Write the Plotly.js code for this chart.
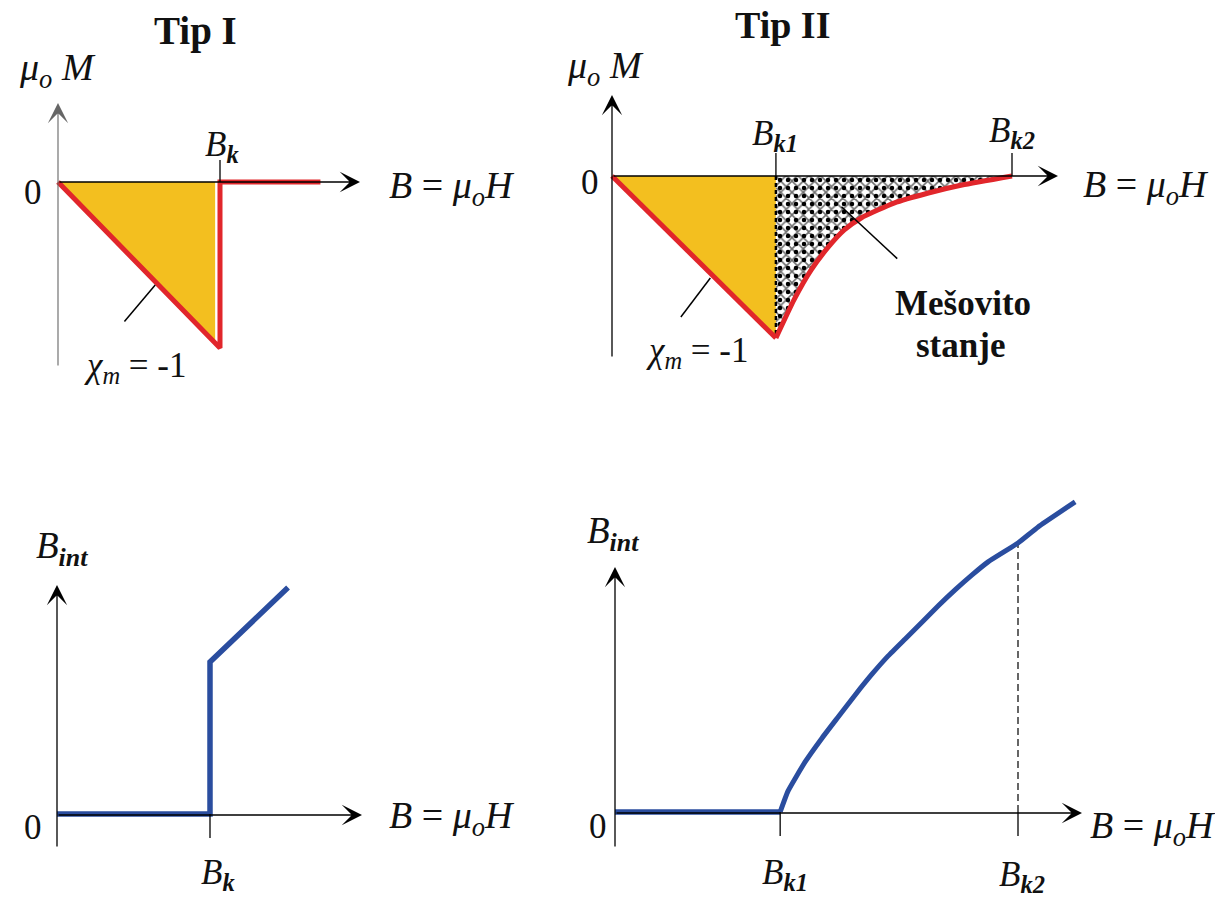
<!DOCTYPE html>
<html><head><meta charset="utf-8">
<script src="https://cdn.plot.ly/plotly-3.0.1.min.js"></script>
<style>html,body{margin:0;padding:0;background:#fff}#chart{width:1215px;height:899px}</style>
</head><body><div id="chart"></div>
<script>
// ---------------- DATA (normalized units, Bk = Bk1 = 1) ----------------
const BK = 1;          // Type I critical field
const BK1 = 1;         // Type II lower critical field
const BK2 = 2.44;      // Type II upper critical field

// Type I magnetization  mu0*M vs B
const t1_B = [0, 1, 1, 1.62];
const t1_M = [0, -1, 0, 0];
const t1_fillB = [0, 0.97, 0.97];
const t1_fillM = [0, -0.97, 0];

// Type II magnetization mu0*M vs B
const t2_B = [0, 1, 1.11, 1.215, 1.32, 1.417, 1.52, 1.72, 1.93, 2.135, 2.44];
const t2_M = [0, -1, -0.765, -0.58, -0.438, -0.333, -0.259, -0.167, -0.105, -0.056, 0];

// Type I internal field
const t1_Bi_B = [0, 1, 1, 1.51];
const t1_Bint = [0, 0, 1, 1.49];

// Type II internal field
const t2_Bi_B = [0, 1, 1.048, 1.151, 1.254, 1.351, 1.454, 1.557, 1.654, 1.757, 1.86, 1.956, 2.059, 2.162, 2.259, 2.44, 2.562, 2.786];
const t2_Bint = [0, 0, 0.191, 0.454, 0.672, 0.862, 1.062, 1.252, 1.416, 1.57, 1.724, 1.869, 2.015, 2.151, 2.269, 2.44, 2.586, 2.813];

// ---------------- LAYOUT HELPERS ----------------
const W = 1215, H = 899;
function xr(px0, v0, px1, v1){ const s=(px1-px0)/(v1-v0); return [v0 - px0/s, v0 + (W-px0)/s]; }
function yr(py0, v0, py1, v1){ const s=(py0-py1)/(v1-v0); return [v0 - (H-py0)/s, v0 + py0/s]; }
const RED = '#e1262b', YEL = '#f3bf1f', BLUE = '#2a4d9f';
const SERIF = 'Liberation Serif, Times New Roman, serif';

const mixB = t2_B.slice(1).concat([BK1]);
const mixM = t2_M.slice(1).concat([0]);

const traces = [
  // panel 1
  {x:t1_fillB, y:t1_fillM, xaxis:'x', yaxis:'y', mode:'lines', fill:'toself', fillcolor:YEL, line:{width:0}},
  {x:t1_B, y:t1_M, xaxis:'x', yaxis:'y', mode:'lines', line:{color:RED, width:5}},
  // panel 2
  {x:t2_B.slice(0,2).concat([BK1]), y:t2_M.slice(0,2).concat([0]), xaxis:'x2', yaxis:'y2', mode:'lines', fill:'toself', fillcolor:YEL, line:{width:0}},
  {x:mixB, y:mixM, xaxis:'x2', yaxis:'y2', mode:'lines', fill:'toself', fillcolor:'#ffffff',
   fillpattern:{shape:'x', fgcolor:'#6e6e6e', bgcolor:'#ffffff', size:8, solidity:0.35}, line:{width:0}},
  {x:mixB, y:mixM, xaxis:'x2', yaxis:'y2', mode:'lines', fill:'toself', fillcolor:'rgba(0,0,0,0)',
   fillpattern:{shape:'.', fgcolor:'#000', bgcolor:'rgba(0,0,0,0)', size:8, solidity:0.25}, line:{width:0}},
  {x:[BK1, BK1], y:[0, -1], xaxis:'x2', yaxis:'y2', mode:'lines', line:{color:'#000', width:2.5, dash:'4px,3px'}},
  {x:t2_B.slice(0,2), y:t2_M.slice(0,2), xaxis:'x2', yaxis:'y2', mode:'lines', line:{color:RED, width:5}},
  {x:t2_B.slice(1), y:t2_M.slice(1), xaxis:'x2', yaxis:'y2', mode:'lines', line:{color:RED, width:5, shape:'spline', smoothing:0.5}},
  // panel 3
  {x:t1_Bi_B, y:t1_Bint, xaxis:'x3', yaxis:'y3', mode:'lines', line:{color:BLUE, width:5.5}},
  // panel 4
  {x:[BK2, BK2], y:[0, BK2], xaxis:'x4', yaxis:'y4', mode:'lines', line:{color:'#000', width:1.2, dash:'7px,4px'}},
  {x:t2_Bi_B.slice(0,2), y:t2_Bint.slice(0,2), xaxis:'x4', yaxis:'y4', mode:'lines', line:{color:BLUE, width:5.5}},
  {x:t2_Bi_B.slice(1), y:t2_Bint.slice(1), xaxis:'x4', yaxis:'y4', mode:'lines', line:{color:BLUE, width:5, shape:'spline', smoothing:0.4}}
];

function ax(range, anchor){ return {domain:[0,1], range:range, visible:false, fixedrange:true, anchor:anchor}; }

function P(px, py){ return {x:px/W, y:1-py/H}; }
function arrow(tailx, taily, tipx, tipy, color, width){
  const p = P(tipx, tipy);
  return {xref:'paper', yref:'paper', x:p.x, y:p.y, ax:tailx-tipx, ay:taily-tipy, text:'', showarrow:true,
          arrowhead:3, arrowsize:2.6/ (width/1.3), arrowwidth:width, arrowcolor:color, standoff:0, startstandoff:0};
}
function label(text, px, py, size, opts){
  const p = P(px, py);
  return Object.assign({xref:'paper', yref:'paper', x:p.x, y:p.y, text:text, showarrow:false,
    xanchor:'center', yanchor:'middle', font:{family:SERIF, size:size, color:'#111'}}, opts||{});
}
const muM = '<i>μ<sub>o</sub> M</i>';
const BmuH = '<i>B</i> = <i>μ<sub>o</sub>H</i>';
const chi = '<i>χ<sub>m</sub></i> = -1';

const annotations = [
  arrow(58, 182, 360, 182, '#000', 1.3),
  arrow(58, 367, 58, 103, '#666', 1.1),
  arrow(612, 176, 1058, 176, '#000', 1.3),
  arrow(612, 358, 612, 95, '#000', 1.3),
  arrow(57, 815, 362, 815, '#000', 1.3),
  arrow(57, 848, 57, 585, '#000', 1.3),
  arrow(615, 813, 1082, 813, '#000', 1.3),
  arrow(615, 848, 615, 567, '#000', 1.3),

  label('<b>Tip I</b>', 195, 31, 39),
  label(muM, 57, 70, 38),
  label('0', 33, 192, 35),
  label(BmuH, 452, 188, 38),
  label('<i>B<sub><b>k</b></sub></i>', 222, 147, 35),
  label(chi, 135, 368, 35),

  label('<b>Tip II</b>', 782, 25, 38),
  label(muM, 605, 68, 38),
  label('0', 590, 182, 35),
  label(BmuH, 1146, 187, 38),
  label('<i>B<sub><b>k1</b></sub></i>', 775, 135, 35),
  label('<i>B<sub><b>k2</b></sub></i>', 1012, 132, 35),
  label('<b>Mešovito</b>', 963, 303, 35),
  label('<b>stanje</b>', 960, 345, 35),
  label(chi, 697, 352, 35),

  label('<i>B<sub><b>int</b></sub></i>', 62, 548, 37),
  label('0', 33, 827, 35),
  label(BmuH, 452, 818, 38),
  label('<i>B<sub><b>k</b></sub></i>', 218, 874, 35),

  label('<i>B<sub><b>int</b></sub></i>', 613, 533, 37),
  label('0', 598, 826, 35),
  label(BmuH, 1088, 828, 38, {xanchor:'left'}),
  label('<i>B<sub><b>k1</b></sub></i>', 785, 874, 35),
  label('<i>B<sub><b>k2</b></sub></i>', 1022, 876, 35)
];

function tick(xa, ya, xv, len){
  return {type:'line', xref:xa, yref:ya, x0:xv, x1:xv, ysizemode:'pixel', yanchor:0, y0:0, y1:len, line:{color:'#000', width:1.3}};
}
function lead(xa, ya, x0, y0, x1, y1){
  return {type:'line', xref:xa, yref:ya, x0:x0, y0:y0, x1:x1, y1:y1, line:{color:'#000', width:1.5}};
}
const shapes = [
  tick('x','y', BK, 22),
  tick('x2','y2', BK1, 23),
  tick('x2','y2', BK2, 23),
  tick('x3','y3', BK, -24),
  tick('x4','y4', BK1, -24),
  tick('x4','y4', BK2, -24),
  lead('x','y', 0.60, -0.62, 0.41, -0.84),
  lead('x2','y2', 0.60, -0.63, 0.42, -0.87),
  lead('x2','y2', 1.40, -0.19, 1.74, -0.51)
];

const layout = {
  width:W, height:H, margin:{l:0,r:0,t:0,b:0}, showlegend:false,
  paper_bgcolor:'#fff', plot_bgcolor:'rgba(0,0,0,0)',
  xaxis: ax(xr(58,0,220,BK),'y'),   yaxis: ax(yr(182,0,348,-1),'x'),
  xaxis2:ax(xr(612,0,1012,BK2),'y2'), yaxis2:ax(yr(176,0,338,-1),'x2'),
  xaxis3:ax(xr(57,0,210,BK),'y3'),  yaxis3:ax(yr(814,0,662,1),'x3'),
  xaxis4:ax(xr(615,0,1018,BK2),'y4'), yaxis4:ax(yr(812,0,543,BK2),'x4'),
  annotations:annotations, shapes:shapes
};
Plotly.newPlot('chart', traces, layout, {staticPlot:true, displayModeBar:false});
</script></body></html>
